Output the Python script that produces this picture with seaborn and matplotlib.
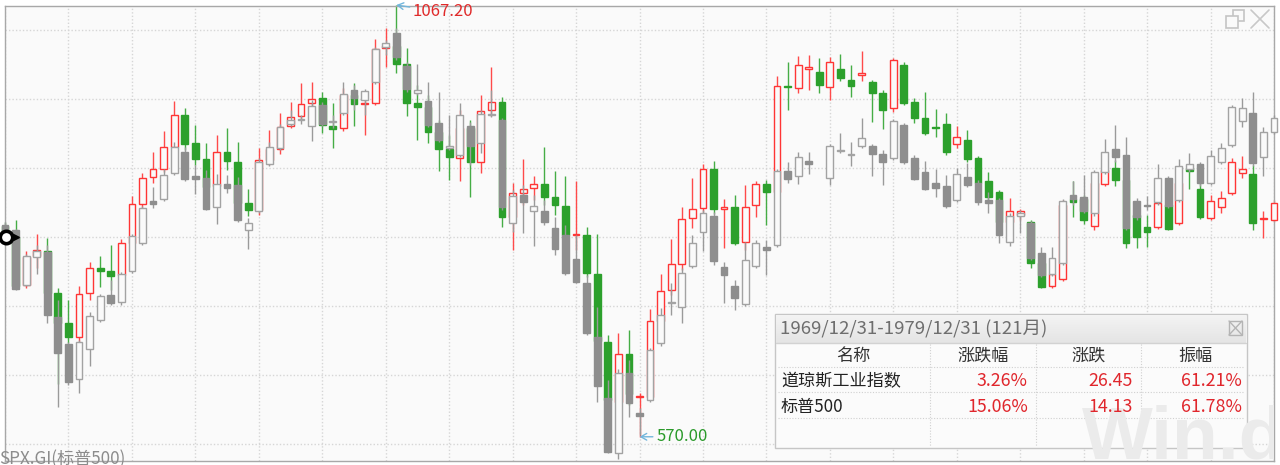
import numpy as np
import matplotlib
matplotlib.use("Agg")
import matplotlib.pyplot as plt
from matplotlib.patches import Rectangle
from matplotlib.lines import Line2D
import seaborn as sns

# monthly bars 1969/12 .. 1979/12 (121 months)
# S&P 500 is shown rebased onto the Dow scale, as the terminal overlays it
dow_open = [812.3, 800.0, 745.0, 778.0, 784.0, 736.0, 701.0, 685.0, 736.0, 764.0,
            761.0, 756.0, 793.0, 838.0, 869.0, 878.0, 904.0, 940.5, 908.0, 890.0,
            859.0, 898.0, 886.0, 839.0, 831.0, 889.0, 901.0, 928.0, 939.0, 954.0,
            960.0, 928.0, 925.6, 963.6, 953.0, 954.4, 1017.7, 1020.0, 999.3, 954.4,
            949.8, 921.0, 901.4, 891.0, 925.6, 886.4, 946.3, 955.5, 823.0, 850.7,
            856.5, 861.0, 846.0, 835.7, 802.4, 802.4, 757.4, 679.0, 610.0, 665.3,
            615.8, 616.0, 703.3, 739.0, 769.0, 822.0, 833.4, 878.4, 832.3, 834.6,
            794.3, 837.0, 861.0, 852.0, 974.0, 971.7, 993.5, 990.0, 972.8, 993.5,
            981.0, 986.6, 978.6, 966.0, 948.6, 998.0, 955.5, 937.0, 926.7, 930.0,
            907.0, 912.0, 891.0, 864.5, 852.0, 817.0, 825.4, 817.0, 770.0, 743.6,
            751.7, 843.8, 843.8, 812.7, 861.0, 879.5, 865.7, 825.4, 811.6, 811.6,
            837.0, 816.0, 879.5, 855.3, 822.0, 834.6, 850.7, 873.8, 872.6, 820.8,
            819.6]
dow_high = [817.0, 820.0, 784.0, 803.5, 799.0, 741.0, 727.5, 744.0, 771.0, 778.0,
            791.0, 798.0, 847.0, 874.0, 898.0, 922.0, 957.0, 949.0, 929.0, 908.0,
            917.5, 925.6, 909.5, 855.0, 902.5, 923.0, 943.0, 955.5, 977.0, 978.6,
            967.0, 954.0, 971.7, 977.0, 963.6, 1028.0, 1040.8, 1067.2, 1017.7, 975.0,
            963.6, 934.8, 917.5, 946.3, 934.8, 963.6, 995.8, 961.3, 862.0, 890.0,
            870.0, 903.7, 876.0, 870.0, 864.5, 811.6, 803.5, 687.0, 689.5, 693.0,
            620.4, 717.0, 757.4, 797.7, 834.6, 868.0, 884.0, 887.6, 843.8, 848.4,
            860.0, 864.5, 865.7, 985.5, 1001.6, 1008.5, 1009.7, 1006.0, 1007.4, 1010.8,
            998.0, 1014.3, 981.0, 969.3, 1006.0, 1001.6, 960.0, 967.0, 947.5, 943.0,
            928.0, 923.0, 893.0, 875.0, 854.0, 845.0, 832.3, 819.6, 779.0, 771.0,
            842.7, 864.5, 848.4, 868.0, 888.7, 888.7, 871.5, 837.0, 825.4, 842.7,
            842.7, 868.0, 883.0, 862.0, 848.4, 853.0, 891.0, 893.0, 883.0, 830.0,
            842.7]
dow_low = [797.0, 741.0, 741.0, 764.0, 727.5, 631.0, 678.0, 676.0, 727.5, 742.5,
           739.0, 739.0, 785.0, 833.0, 862.0, 875.0, 900.0, 900.0, 883.0, 848.0,
           843.0, 877.0, 825.0, 824.0, 825.0, 883.0, 896.0, 925.6, 935.0, 949.0,
           920.0, 902.5, 922.0, 928.0, 917.5, 952.0, 996.0, 989.0, 939.4, 911.8,
           908.0, 876.0, 865.7, 864.5, 846.0, 873.8, 939.4, 811.6, 785.0, 837.0,
           842.7, 837.0, 825.4, 791.0, 785.0, 754.0, 670.0, 595.0, 580.0, 606.6,
           570.0, 612.3, 698.7, 733.0, 762.0, 810.4, 827.7, 826.5, 787.4, 790.8,
           785.0, 823.0, 814.0, 848.4, 946.3, 966.0, 969.3, 966.0, 957.8, 979.7,
           961.0, 979.7, 932.5, 924.4, 944.0, 952.0, 931.3, 917.5, 915.0, 894.5,
           902.5, 886.0, 859.0, 842.7, 814.0, 815.0, 819.6, 764.0, 741.0, 741.0,
           749.4, 823.0, 815.0, 808.0, 858.8, 858.8, 787.4, 787.4, 788.5, 809.3,
           808.0, 814.0, 855.3, 820.8, 819.6, 827.7, 848.4, 868.0, 808.0, 799.0,
           817.3]
dow_close = [800.4, 744.0, 777.0, 785.0, 736.0, 701.0, 685.0, 734.0, 764.0, 761.0,
             755.0, 793.0, 838.0, 868.0, 878.0, 904.0, 940.5, 907.0, 890.0, 858.0,
             898.0, 887.6, 839.0, 831.0, 889.0, 901.0, 927.0, 938.0, 953.0, 959.0,
             929.0, 924.0, 963.6, 953.0, 954.4, 1016.6, 1020.0, 999.3, 954.4, 949.8,
             921.0, 901.4, 892.0, 925.6, 886.4, 945.2, 955.5, 823.0, 850.7, 855.3,
             861.0, 846.0, 837.0, 802.4, 803.0, 758.6, 680.0, 612.0, 665.3, 619.2,
             616.9, 703.3, 738.0, 769.0, 820.8, 832.3, 878.4, 832.3, 834.6, 793.0,
             834.6, 861.0, 852.0, 974.0, 972.8, 998.0, 995.8, 975.0, 1001.6, 983.0,
             974.0, 989.0, 966.0, 946.3, 1004.0, 954.4, 937.0, 920.0, 925.6, 898.0,
             915.0, 890.0, 862.0, 846.0, 817.0, 830.0, 830.0, 770.0, 742.5, 757.4,
             837.0, 840.4, 819.6, 862.0, 877.0, 865.7, 793.0, 800.0, 805.8, 839.0,
             809.3, 862.0, 876.0, 823.0, 841.5, 845.0, 886.4, 878.4, 816.0, 822.0,
             839.0]

nan = float("nan")
spx_open = [814.0, 808.0, 745.0, 777.0, 783.0, 708.0, 677.0, 636.5, 671.0, 704.5,
            733.0, 725.0, 761.0, 793.0, 841.5, 843.8, 873.8, 898.0, 870.0, 868.0,
            834.6, 861.0, 860.0, 808.0, 830.0, 884.0, 902.5, 930.0, 934.8, 928.0,
            952.0, 932.5, 943.0, 969.3, 957.8, 978.6, 1019.0, 1035.0, 997.0, 966.0,
            956.7, 931.3, 902.5, 894.5, 928.0, 908.0, 940.6, 934.8, 816.0, 848.4,
            830.0, 830.0, 810.4, 802.4, 774.7, 747.0, 685.0, 614.6, 551.3, 643.4,
            597.4, 612.3, 678.0, 724.0, 719.4, 766.6, 806.0, 824.2, 765.5, 743.6,
            723.0, 766.6, 788.5, 790.8, 876.0, 870.3, 887.6, nan, 868.0, 899.0,
            895.0, 905.0, 905.0, 895.6, 891.0, 929.0, 891.0, 875.0, 862.0, 858.8,
            842.7, 869.0, 862.0, 842.7, 842.7, 794.3, 824.2, 816.0, 781.6, 757.4,
            770.0, 848.4, 846.0, 827.7, 875.0, 901.4, 894.5, 841.5, 837.0, 840.4,
            868.0, 842.7, 878.4, 884.0, 862.0, 886.4, 906.0, 933.6, 942.9, 892.0,
            921.0]
spx_high = [817.0, 809.0, 780.5, 791.0, 791.0, 727.5, 679.0, 681.4, 713.7, 734.4,
            750.5, 759.7, 803.5, 835.7, 857.6, 878.4, 909.5, 903.7, 883.0, 877.0,
            872.6, 871.5, 869.0, 822.0, 891.0, 909.5, 930.0, 946.3, 940.6, 957.8,
            955.5, 940.6, 978.6, 975.0, 970.5, 1019.0, 1027.0, 1040.8, 1001.6, 999.3,
            978.6, 967.0, 940.6, 954.4, 932.5, 946.3, 969.3, 937.0, 854.2, 860.0,
            848.4, 842.7, 823.0, 814.0, 802.4, 756.3, 719.4, 635.4, 648.0, 658.4,
            603.0, 672.2, 718.3, 747.0, 764.3, 802.4, 831.0, 829.0, 771.3, 750.5,
            794.3, 796.6, 796.6, 878.4, 886.4, 898.0, 898.0, nan, 907.0, 919.8,
            909.5, 937.0, 907.0, 900.2, 936.0, 931.3, 894.5, 887.6, 878.4, 871.5,
            879.5, 885.3, 865.7, 852.0, 845.0, 827.7, 831.0, 818.5, 788.5, 788.5,
            843.8, 864.5, 871.5, 877.0, 913.0, 929.0, 915.0, 845.0, 847.3, 884.0,
            870.3, 890.0, 896.8, 886.4, 900.2, 908.3, 952.0, 960.0, 967.0, 926.7,
            940.6]
spx_low = [795.4, 739.0, 743.6, 757.4, 701.0, 604.3, 629.6, 620.4, 651.5, 702.0,
           721.7, 721.7, 758.6, 791.0, 833.4, 841.5, 871.5, 864.5, 849.6, 831.0,
           815.0, 850.7, 817.0, 786.0, 827.7, 881.8, 900.0, 928.0, 930.0, 910.6,
           928.0, 925.6, 940.6, 946.3, 940.6, 976.3, 1009.7, 1004.0, 967.0, 963.6,
           926.7, 909.5, 900.0, 892.0, 883.0, 896.8, 938.3, 831.0, 805.8, 804.7,
           789.7, 814.0, 779.3, 756.3, 747.0, 687.0, 610.0, 551.3, 544.4, 592.7,
           572.0, 610.0, 674.5, 710.2, 701.0, 764.3, 784.0, 767.8, 724.0, 716.0,
           720.6, 764.3, 756.3, 788.5, 862.2, 861.0, 872.6, nan, 860.0, 896.8,
           881.8, 902.5, 870.3, 860.0, 888.7, 884.0, 865.7, 854.2, 846.0, 833.4,
           840.4, 857.6, 837.0, 827.7, 793.0, 789.7, 804.7, 773.6, 754.0, 755.0,
           767.8, 837.0, 827.7, 824.2, 872.6, 886.4, 808.0, 819.6, 831.0, 837.0,
           833.4, 840.4, 875.0, 858.8, 860.0, 884.0, 903.7, 926.7, 881.8, 870.3,
           918.7]
spx_close = [800.4, 740.0, 778.0, 784.0, 710.0, 666.5, 633.0, 679.0, 709.0, 732.0,
             724.0, 757.4, 801.0, 833.4, 838.0, 871.5, 903.7, 866.8, 866.8, 832.3,
             861.0, 856.5, 819.6, 816.0, 886.4, 903.7, 926.7, 934.8, 936.0, 951.0,
             930.0, 933.6, 964.7, 960.0, 968.0, 1016.6, 1023.5, 1007.4, 970.5, 969.3,
             929.0, 911.8, 905.0, 940.6, 905.0, 941.7, 941.7, 834.6, 847.3, 840.4,
             835.7, 817.3, 786.0, 758.6, 748.0, 689.5, 628.4, 552.4, 643.4, 609.0,
             594.0, 670.0, 710.2, 725.2, 758.6, 793.0, 827.7, 772.4, 756.3, 729.8,
             773.6, 793.0, 785.0, 876.0, 866.8, 892.0, 884.0, nan, 905.0, 899.7,
             895.6, 914.0, 895.6, 886.4, 933.6, 886.4, 866.8, 855.3, 856.5, 835.7,
             872.6, 860.0, 840.4, 839.0, 802.4, 824.2, 827.7, 776.0, 756.3, 776.0,
             841.5, 843.8, 830.0, 875.0, 898.0, 892.0, 810.4, 823.0, 835.7, 868.0,
             835.7, 881.8, 884.0, 862.0, 893.3, 902.5, 949.8, 948.6, 885.3, 921.0,
             937.0]

period_label = "1969/12/31-1979/12/31 (121月)"
table_header = ["名称", "涨跌幅", "涨跌", "振幅"]
table_names = ["道琼斯工业指数", "标普500"]
table_pct = ["3.26%", "15.06%"]
table_chg = ["26.45", "14.13"]
table_amp = ["61.21%", "61.78%"]
overlay_label = "SPX.GI(标普500)"

BG = "#fafafa"
RED, GREEN = "#ff3535", "#2ca02c"
GRAY_FILL, GRAY_EDGE = "#8e8e8e", "#a3a3a3"

sns.set_theme(style="white")
plt.rcParams["font.family"] = ["Noto Sans CJK SC", "DejaVu Sans"]

W, H = 1280, 465
fig = plt.figure(figsize=(W / 100, H / 100), dpi=100, facecolor="white")
ax = fig.add_axes([5 / W, 1 - 461 / H, 1269 / W, 455 / H])
ax.set_facecolor(BG)
n = len(dow_open)
ax.set_xlim(0, n - 1)
ax.set_ylim(542.1, 1066.1)
ax.set_xticks([])
ax.set_yticks([])
for s in ax.spines.values():
    s.set_color("#a8a8a8")
    s.set_linewidth(1)

# dotted grid: every 6 months, and ~10% steps around the base close
for gx in range(0, n, 6):
    ax.axvline(gx, color="#d6d6d6", lw=1, ls=(0, (1, 1.5)), zorder=0.5)
for k in range(-3, 4):
    ax.axhline(dow_close[0] + k * 79.45, color="#d6d6d6", lw=1, ls=(0, (1, 1.5)), zorder=0.5)


def candles(o, h, l, c, up_edge, down_fill, up_wick, down_wick, z):
    o, h, l, c = map(np.asarray, (o, h, l, c))
    ok = ~np.isnan(o)
    x = np.arange(len(o))[ok]
    o, h, l, c = o[ok], h[ok], l[ok], c[ok]
    up = c >= o
    ax.vlines(x, l, h, colors=[up_wick if u else down_wick for u in up],
              lw=1, zorder=z, clip_on=False)
    ax.bar(x, np.maximum(np.abs(c - o), 0.4), width=0.64, bottom=np.minimum(o, c),
           color=[BG if u else down_fill for u in up],
           edgecolor=[up_edge if u else down_fill for u in up],
           linewidth=1, zorder=z + 1, clip_on=False)


candles(dow_open, dow_high, dow_low, dow_close, RED, GREEN, "#ff4a4a", "#45ad45", 2)
candles(spx_open, spx_high, spx_low, spx_close, GRAY_EDGE, GRAY_FILL, "#9a9a9a", "#9a9a9a", 4)

# max / min markers
imax = int(np.argmax(dow_high))
imin = int(np.argmin(dow_low))
arrow = dict(arrowstyle="->,head_length=0.35,head_width=0.2", color="#72b6dc", lw=1,
             shrinkA=0, shrinkB=0)
ax.annotate(f"{dow_high[imax]:.2f}", xy=(imax, dow_high[imax]), xytext=(12, -5),
            textcoords="offset points", ha="left", va="center", fontsize=12,
            color="#e02a2a", arrowprops=arrow, annotation_clip=False, zorder=8)
ax.annotate(f"{dow_low[imin]:.2f}", xy=(imin, dow_low[imin]), xytext=(12, 0),
            textcoords="offset points", ha="left", va="center", fontsize=12,
            color="#2a9a2a", arrowprops=arrow, annotation_clip=False, zorder=8)

# base-line handle on the first bar
sns.scatterplot(x=[0.1], y=[dow_close[0]], ax=ax, marker="o", s=80, color="white",
                edgecolor="black", linewidth=2.6, zorder=9, clip_on=False, legend=False)
ax.plot([1.05], [dow_close[0]], marker=">", ms=5, color="black", zorder=9, clip_on=False)


def px(x):
    return x / W


def py(y):
    return 1 - y / H


def frect(x0, y0, x1, y1, **kw):
    fig.add_artist(Rectangle((px(x0), py(y1)), (x1 - x0) / W, (y1 - y0) / H,
                             transform=fig.transFigure, **kw))


def fline(xs, ys, **kw):
    fig.add_artist(Line2D([px(v) for v in xs], [py(v) for v in ys],
                          transform=fig.transFigure, **kw))


# window icons top right
frect(1233, 10, 1244, 21, fill=False, ec="#c4c4c4", lw=1.2, zorder=3)
frect(1226, 16, 1238, 28, fc=BG, ec="#c4c4c4", lw=1.2, zorder=3)
fline([1251, 1269], [10, 28], color="#c8c8c8", lw=1.2, zorder=3)
fline([1251, 1269], [28, 10], color="#c8c8c8", lw=1.2, zorder=3)

# summary table
frect(775, 314, 1247, 448, fc="#fbfbfb", ec="#c6c6c6", lw=1, zorder=10)
top, bot = np.array([0xf3, 0xf3, 0xf3]) / 255, np.array([0xe4, 0xe4, 0xe4]) / 255
for k in range(28):
    t = k / 27
    frect(776, 315 + k, 1246, 316 + k, fc=tuple(top * (1 - t) + bot * t), lw=0, zorder=10.1)
fline([776, 1246], [343, 343], color="#d2d2d2", lw=1, zorder=10.2)
fig.text(px(780), py(329), period_label, fontsize=13.4, color="#6e6e6e",
         va="center", ha="left", zorder=12)
frect(1229, 321, 1242, 335, fill=False, ec="#b4b4b4", lw=1, zorder=12)
fline([1229, 1242], [321, 335], color="#b4b4b4", lw=1, zorder=12)
fline([1229, 1242], [335, 321], color="#b4b4b4", lw=1, zorder=12)
for xv in (930, 1036, 1141):
    fline([xv, xv], [344, 446], color="#d0d0d0", lw=0.8, ls=(0, (1, 1.5)), zorder=10.3)
for yv in (367, 392, 418):
    fline([778, 1244], [yv, yv], color="#d0d0d0", lw=0.8, ls=(0, (1, 1.5)), zorder=10.3)

wm = fig.text(px(1082), py(458), "Win.d", fontsize=54, fontweight="bold",
              family="Liberation Sans", color="#ebebeb", va="baseline", zorder=11)
wm.set_clip_box(ax.bbox)
wm.set_clip_on(True)

for cx, label in zip((853, 983, 1089, 1195), table_header):
    fig.text(px(cx), py(356), label, fontsize=12.3, color="#333333",
             ha="center", va="center", zorder=12)
for row, yv in enumerate((381, 407)):
    fig.text(px(781), py(yv), table_names[row], fontsize=12.3, color="#222222",
             ha="left", va="center", zorder=12)
    for rx, col in zip((1028, 1133, 1242), (table_pct, table_chg, table_amp)):
        fig.text(px(rx), py(yv), col[row], fontsize=12.8, color="#e0262c",
                 ha="right", va="center", zorder=12)

fig.text(px(-1), py(464), overlay_label, fontsize=12.3, color="#8c8c8c",
         ha="left", va="baseline", zorder=12)

fig.savefig("out.png", dpi=100, facecolor="white")
